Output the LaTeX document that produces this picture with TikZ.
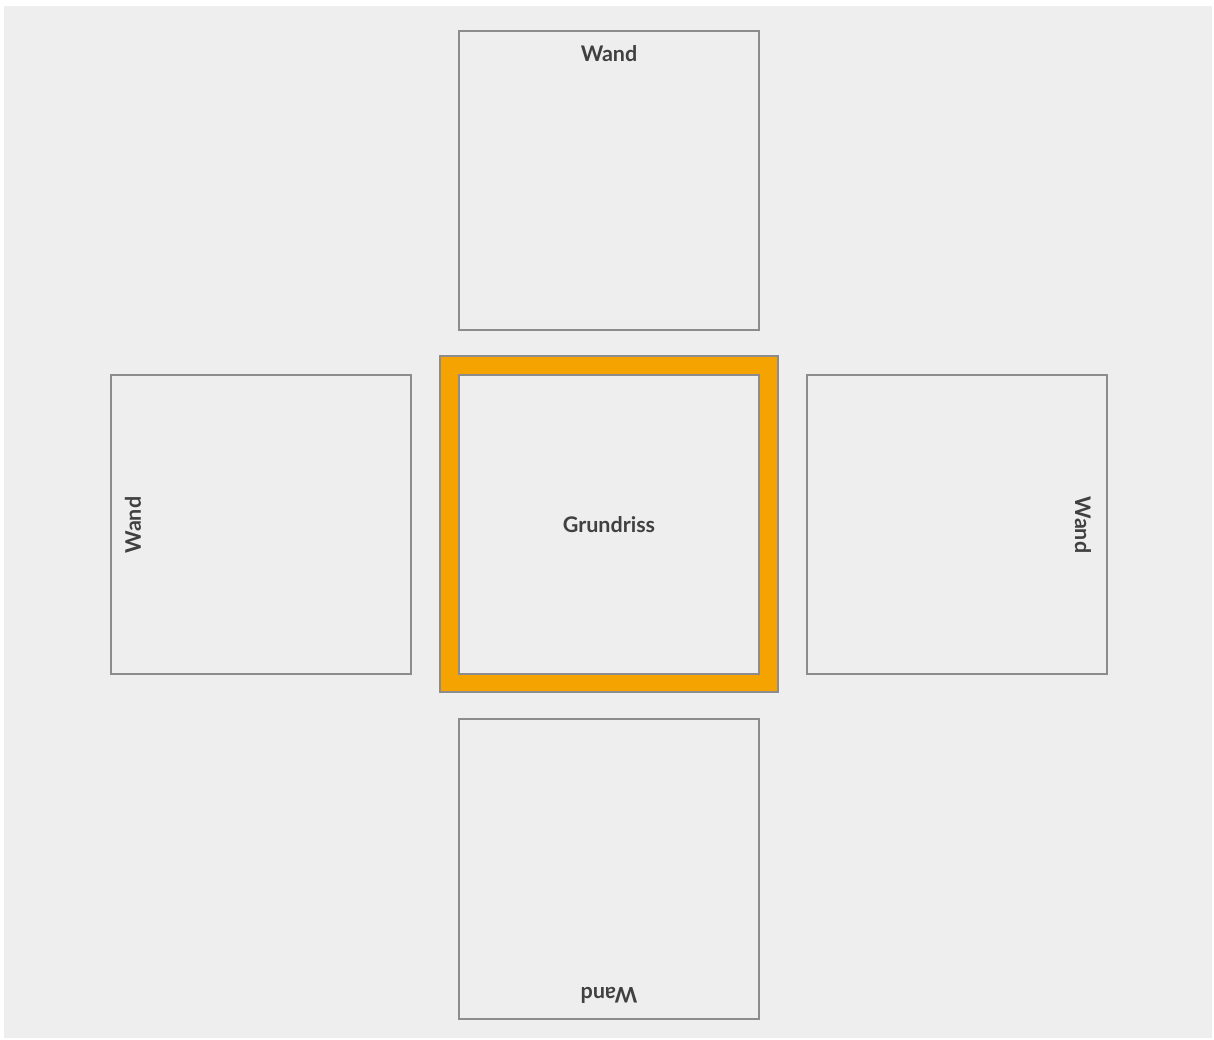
\documentclass[tikz,border=0pt]{standalone}
\usepackage{fontspec}
\setmainfont{Lato}
\definecolor{bg}{HTML}{EEEEEE}
\definecolor{edge}{HTML}{8C8C8C}
\definecolor{orangefill}{HTML}{F5A300}
\definecolor{txt}{HTML}{404040}
\begin{document}
\begin{tikzpicture}[x=1pt,y=-1pt,
  wall/.style={draw=edge,line width=2pt,fill=bg},
  lbl/.style={text=txt,font=\fontsize{21.5}{24}\selectfont\bfseries,inner sep=0pt}]
\useasboundingbox (0,0) rectangle (1214,1040);
\fill[white] (0,0) rectangle (1214,1040);
\fill[bg] (4,6) rectangle (1212,1038);
% centre frame
\draw[draw=edge,line width=2pt,fill=orangefill] (440,356) rectangle (778,692);
% boxes
\draw[wall] (459,31) rectangle (759,330);
\draw[wall] (111,375) rectangle (411,674);
\draw[wall] (459,375) rectangle (759,674);
\draw[wall] (807,375) rectangle (1107,674);
\draw[wall] (459,719) rectangle (759,1019);
% labels
\node[lbl] (tw) at (609,54) {Wand};
\node[lbl,rotate=90] (lw) at (133,525) {Wand};
\node[lbl,rotate=-90] (rw) at (1083,525) {Wand};
\node[lbl,rotate=180] (bw) at (609,995) {Wand};
\node[lbl] (gr) at (609,525) {Grundriss};
\end{tikzpicture}
\end{document}
